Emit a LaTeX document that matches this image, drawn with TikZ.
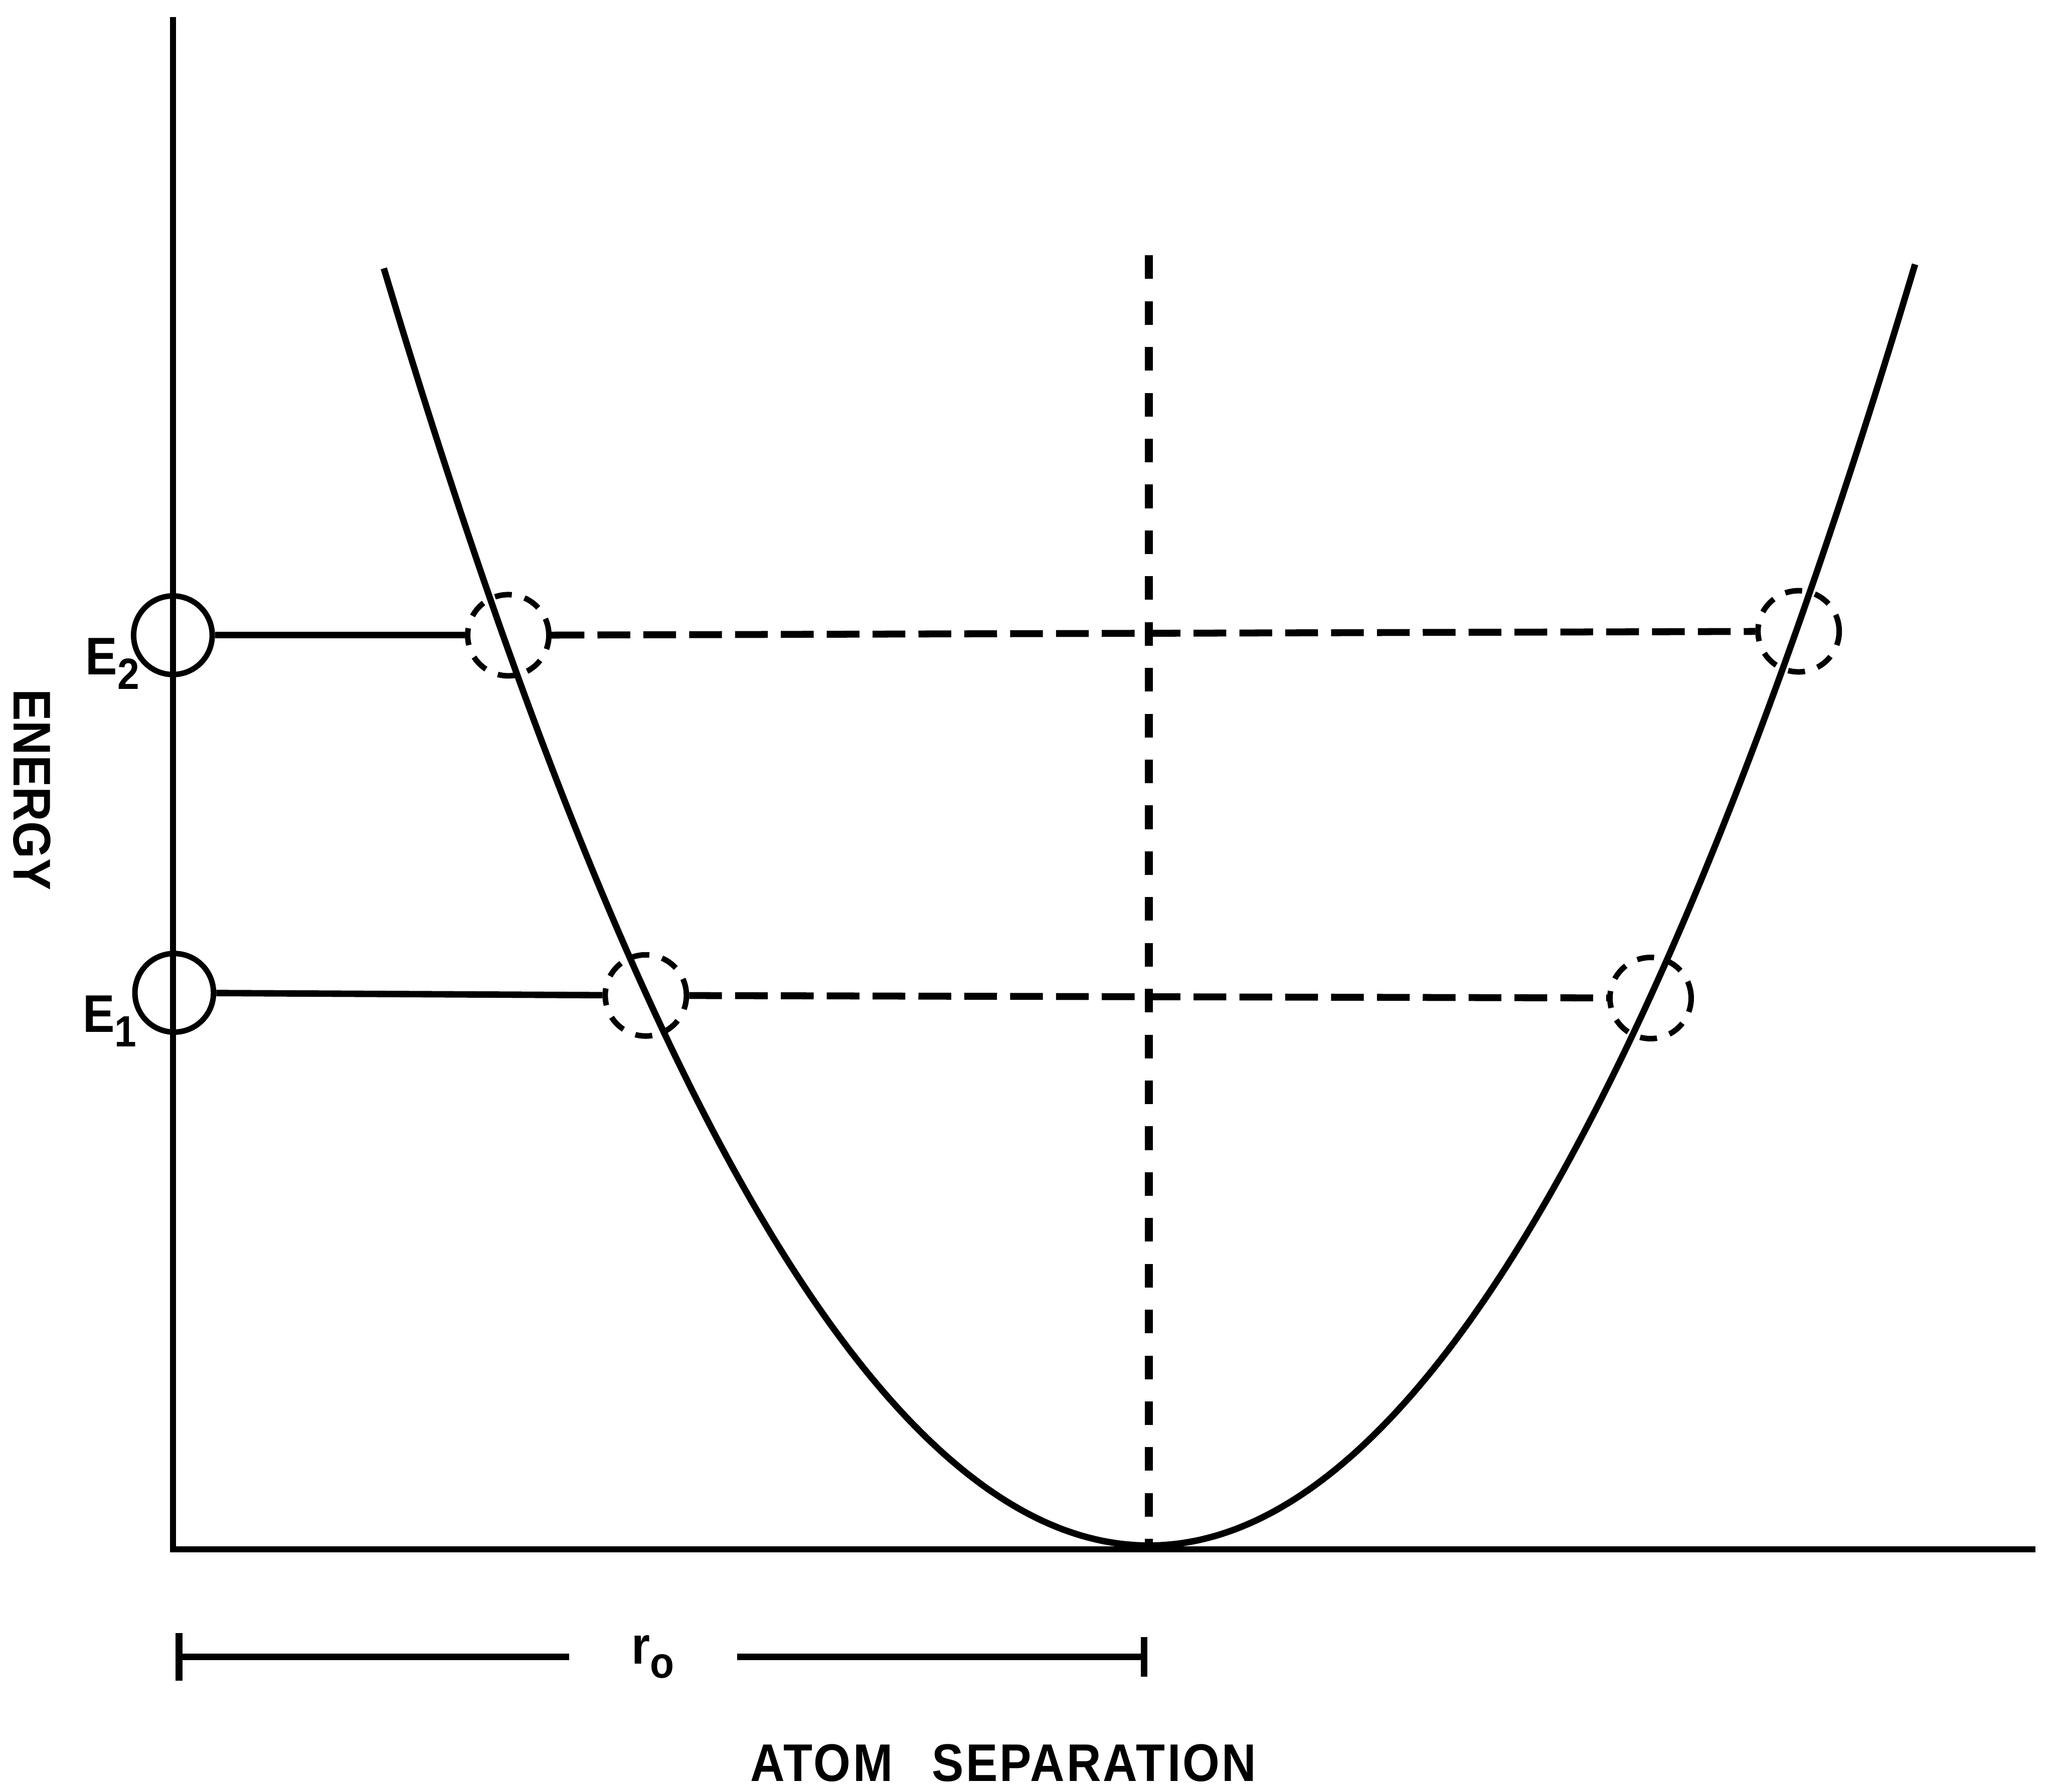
\documentclass[tikz,border=0pt]{standalone}
\usepackage{fontspec}
\setmainfont{Liberation Sans}[FakeStretch=0.9]
\usetikzlibrary{calc,arrows.meta}
\newcommand{\lowsub}[1]{\raisebox{-0.11cm}{\fontsize{9.5}{10}\selectfont #1}}

\begin{document}
\begin{tikzpicture}[scale=1,
  lvl/.style={draw,circle,line width=1.2pt,minimum size=0.6cm,inner sep=0pt},
  ghost/.style={draw,circle,line width=1.2pt,dash pattern=on 0.13cm off 0.1cm,minimum size=0.62cm,inner sep=0pt},
  lbl/.style={font=\fontsize{11.5}{14}\selectfont\bfseries,inner sep=0pt},
  dashln/.style={line width=1.5pt,dash pattern=on 0.25cm off 0.1cm}]
\useasboundingbox (0,0) rectangle (15.68,13.68);
\coordinate (o) at (1.32,1.85);
\draw[line width=1.3pt] (1.32,13.55) -- (o) -- (15.54,1.85);
\draw[line width=1.8pt,dash pattern=on 0.18cm off 0.17cm] (8.77,11.73) -- (8.77,1.88);
\draw[line width=1.4pt,smooth,samples=80,domain=2.93:14.62] plot (\x,{1.88+0.2859*(\x-8.77)^2});
\node[lvl] (e2) at (1.32,8.83) {};
\node[ghost] (e2l) at (3.88,8.83) {};
\node[ghost] (e2r) at (13.73,8.86) {};
\draw[line width=1.4pt] (e2) -- (e2l);
\draw[dashln] (e2l) -- (e2r);
\node[lvl] (e1) at (1.33,6.10) {};
\node[ghost] (e1l) at (4.93,6.08) {};
\node[ghost] (e1r) at (12.60,6.06) {};
\draw[line width=1.4pt] (e1) -- (e1l);
\draw[dashln] (e1l) -- (e1r);
\node[lbl,anchor=base east] (e2t) at (1.07,8.53) {E\lowsub{2}};
\node[lbl,anchor=base east] (e1t) at (1.05,5.80) {E\lowsub{1}};
\node[lbl,rotate=-90] (ylab) at (0.245,7.65) {ENERGY};
\coordinate (dl) at (1.34,1.03);
\coordinate (dr) at (8.76,1.03);
\node[lbl,minimum width=1.27cm] (r0) at (4.985,1.03) {r\lowsub{o}};
\draw[line width=1.5pt,{Bar[width=0.36cm]}-] (dl) -- (r0.west);
\draw[line width=1.5pt,-{Bar[width=0.3cm]}] (r0.east) -- (dr);
\node[lbl,anchor=base] (xlab) at (7.66,0.08) {\addfontfeatures{LetterSpace=4}ATOM\hspace{0.3cm}SEPARATION};
\end{tikzpicture}
\end{document}
